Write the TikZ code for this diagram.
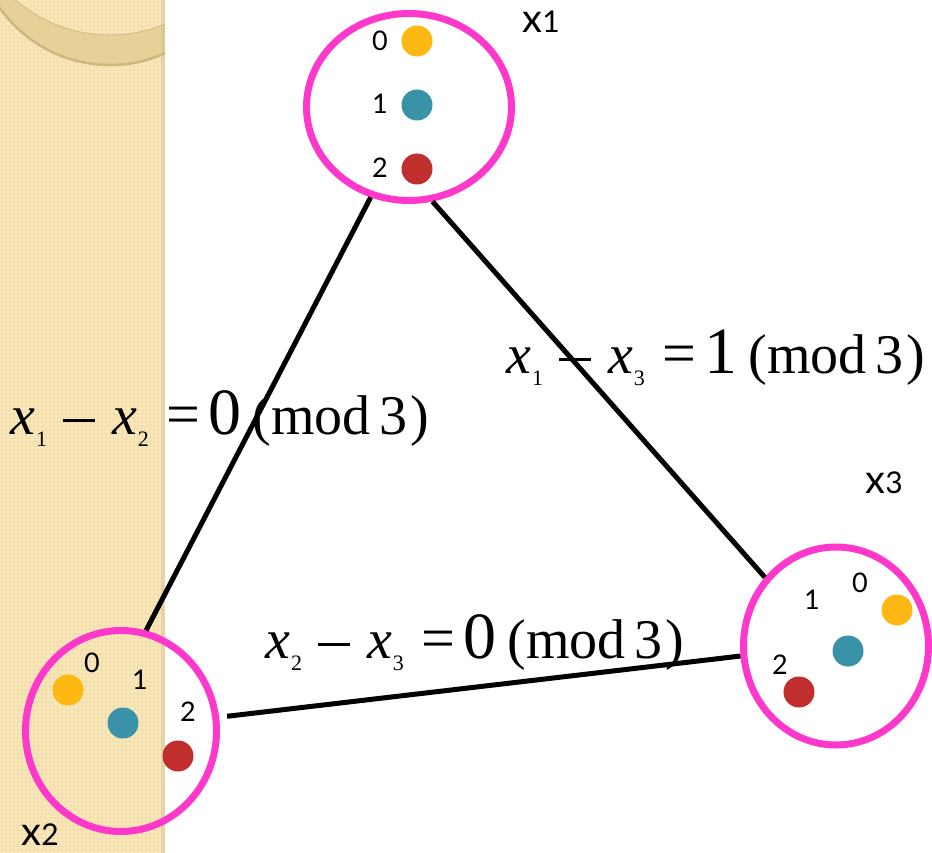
\documentclass[tikz,border=0pt]{standalone}
\usepackage{fontspec}
\setmainfont{Liberation Serif}
\newfontfamily\gill{Lato}
\usetikzlibrary{shapes.geometric}
\definecolor{beige}{HTML}{F9E7BA}
\definecolor{beigedark}{HTML}{EEDBA8}
\definecolor{ringc}{HTML}{E6D199}
\definecolor{ringedge}{HTML}{CDB97F}
\definecolor{pinkc}{HTML}{FF38CC}
\definecolor{yel}{HTML}{FDB813}
\definecolor{tealc}{HTML}{3A92A8}
\definecolor{redd}{HTML}{C02E2E}
\tikzset{
  grp/.style={ellipse, draw=pinkc, line width=7, inner sep=0},
  dot/.style={circle, fill=#1, minimum size=31, inner sep=0},
  num/.style={font=\gill\fontsize{27}{27}\selectfont, inner sep=0},
  gname/.style={inner sep=0, anchor=base},
  edge/.style={line width=5, black},
  eqn/.style={anchor=base west, inner sep=0, font=\fontsize{56}{56}\selectfont}
}
\newcommand{\gn}[1]{{\gill\fontsize{40}{40}\selectfont x}{\gill\fontsize{30}{30}\selectfont #1}}
\newcommand{\subs}[1]{\raisebox{-12pt}{\fontsize{22}{22}\selectfont #1}}
\newcommand{\vx}[1]{{\itshape x}\hspace{1pt}\subs{#1}}
\newcommand{\mminus}{\rule[12pt]{32pt}{3pt}}
\newcommand{\eqlab}[3]{\vx{#1}\hspace{16pt}\mminus\hspace{17pt}\vx{#2}\hspace{18pt}{\fontsize{60}{60}\selectfont=}\hspace{8pt}{\fontsize{66}{66}\selectfont #3}\hspace{11pt}(mod\hspace{9pt}3\hspace{3pt})}
\begin{document}
\begin{tikzpicture}[x=1pt,y=-1pt]
\useasboundingbox (0,0) rectangle (932,853);
% left decorative strip
\fill[beige] (0,0) rectangle (165,853);
\begin{scope}
  \clip (0,0) rectangle (165,853);
  \foreach \i in {0,...,20}{\foreach \j in {0,...,107}{
    \draw[beigedark, line width=1] (\i*8+1.5,\j*8+1.5) rectangle +(5,5);}}
  \fill[ringc, even odd rule] (110,-70) circle (135) (110,-110) circle (145);
  \draw[ringedge, line width=2.5] (110,-70) circle (135);
  \draw[ringedge!70!ringc, line width=1] (110,-110) circle (145);
  \fill[beigedark!85!black, opacity=0.35] (161,0) rectangle (165,853);
\end{scope}
% groups
\node[grp, minimum width=205, minimum height=187] (c1) at (409,107) {};
\node[grp, minimum width=191, minimum height=201] (c2) at (121,731) {};
\node[grp, minimum width=185, minimum height=198] (c3) at (836,646) {};
% dots
\node[dot=yel]   (c1d0) at (417,41) {};
\node[dot=tealc] (c1d1) at (417,105) {};
\node[dot=redd]  (c1d2) at (417,169) {};
\node[dot=yel]   (c2d0) at (68,690) {};
\node[dot=tealc] (c2d1) at (123,723) {};
\node[dot=redd]  (c2d2) at (178,756) {};
\node[dot=yel]   (c3d0) at (897,610) {};
\node[dot=tealc] (c3d1) at (848,651) {};
\node[dot=redd]  (c3d2) at (799,692) {};
% value labels
\node[num] (c1n0) at (380,41) {0};
\node[num] (c1n1) at (380,104) {1};
\node[num] (c1n2) at (380,168) {2};
\node[num] (c2n0) at (92,663) {0};
\node[num] (c2n1) at (140,680) {1};
\node[num] (c2n2) at (188,712) {2};
\node[num] (c3n0) at (860,583) {0};
\node[num] (c3n1) at (812,600) {1};
\node[num] (c3n2) at (780,665) {2};
% group names
\node[gname] (g1) at (541,33) {\gn{1}};
\node[gname] (g2) at (40,845) {\gn{2}};
\node[gname] (g3) at (884,493) {\gn{3}};
% edges
\draw[edge] (c1.247) -- (c2.76);
\draw[edge] (c1.284) -- (c3.136);
\draw[edge, shorten <=8] (c2.8) -- (c3.186.4);
% equations
\node[eqn] (e12) at (10,434) {\eqlab{1}{2}{0}};
\node[eqn] (e13) at (506,373) {\eqlab{1}{3}{1}};
\node[eqn] (e23) at (265,658) {\eqlab{2}{3}{0}};
\end{tikzpicture}
\end{document}
